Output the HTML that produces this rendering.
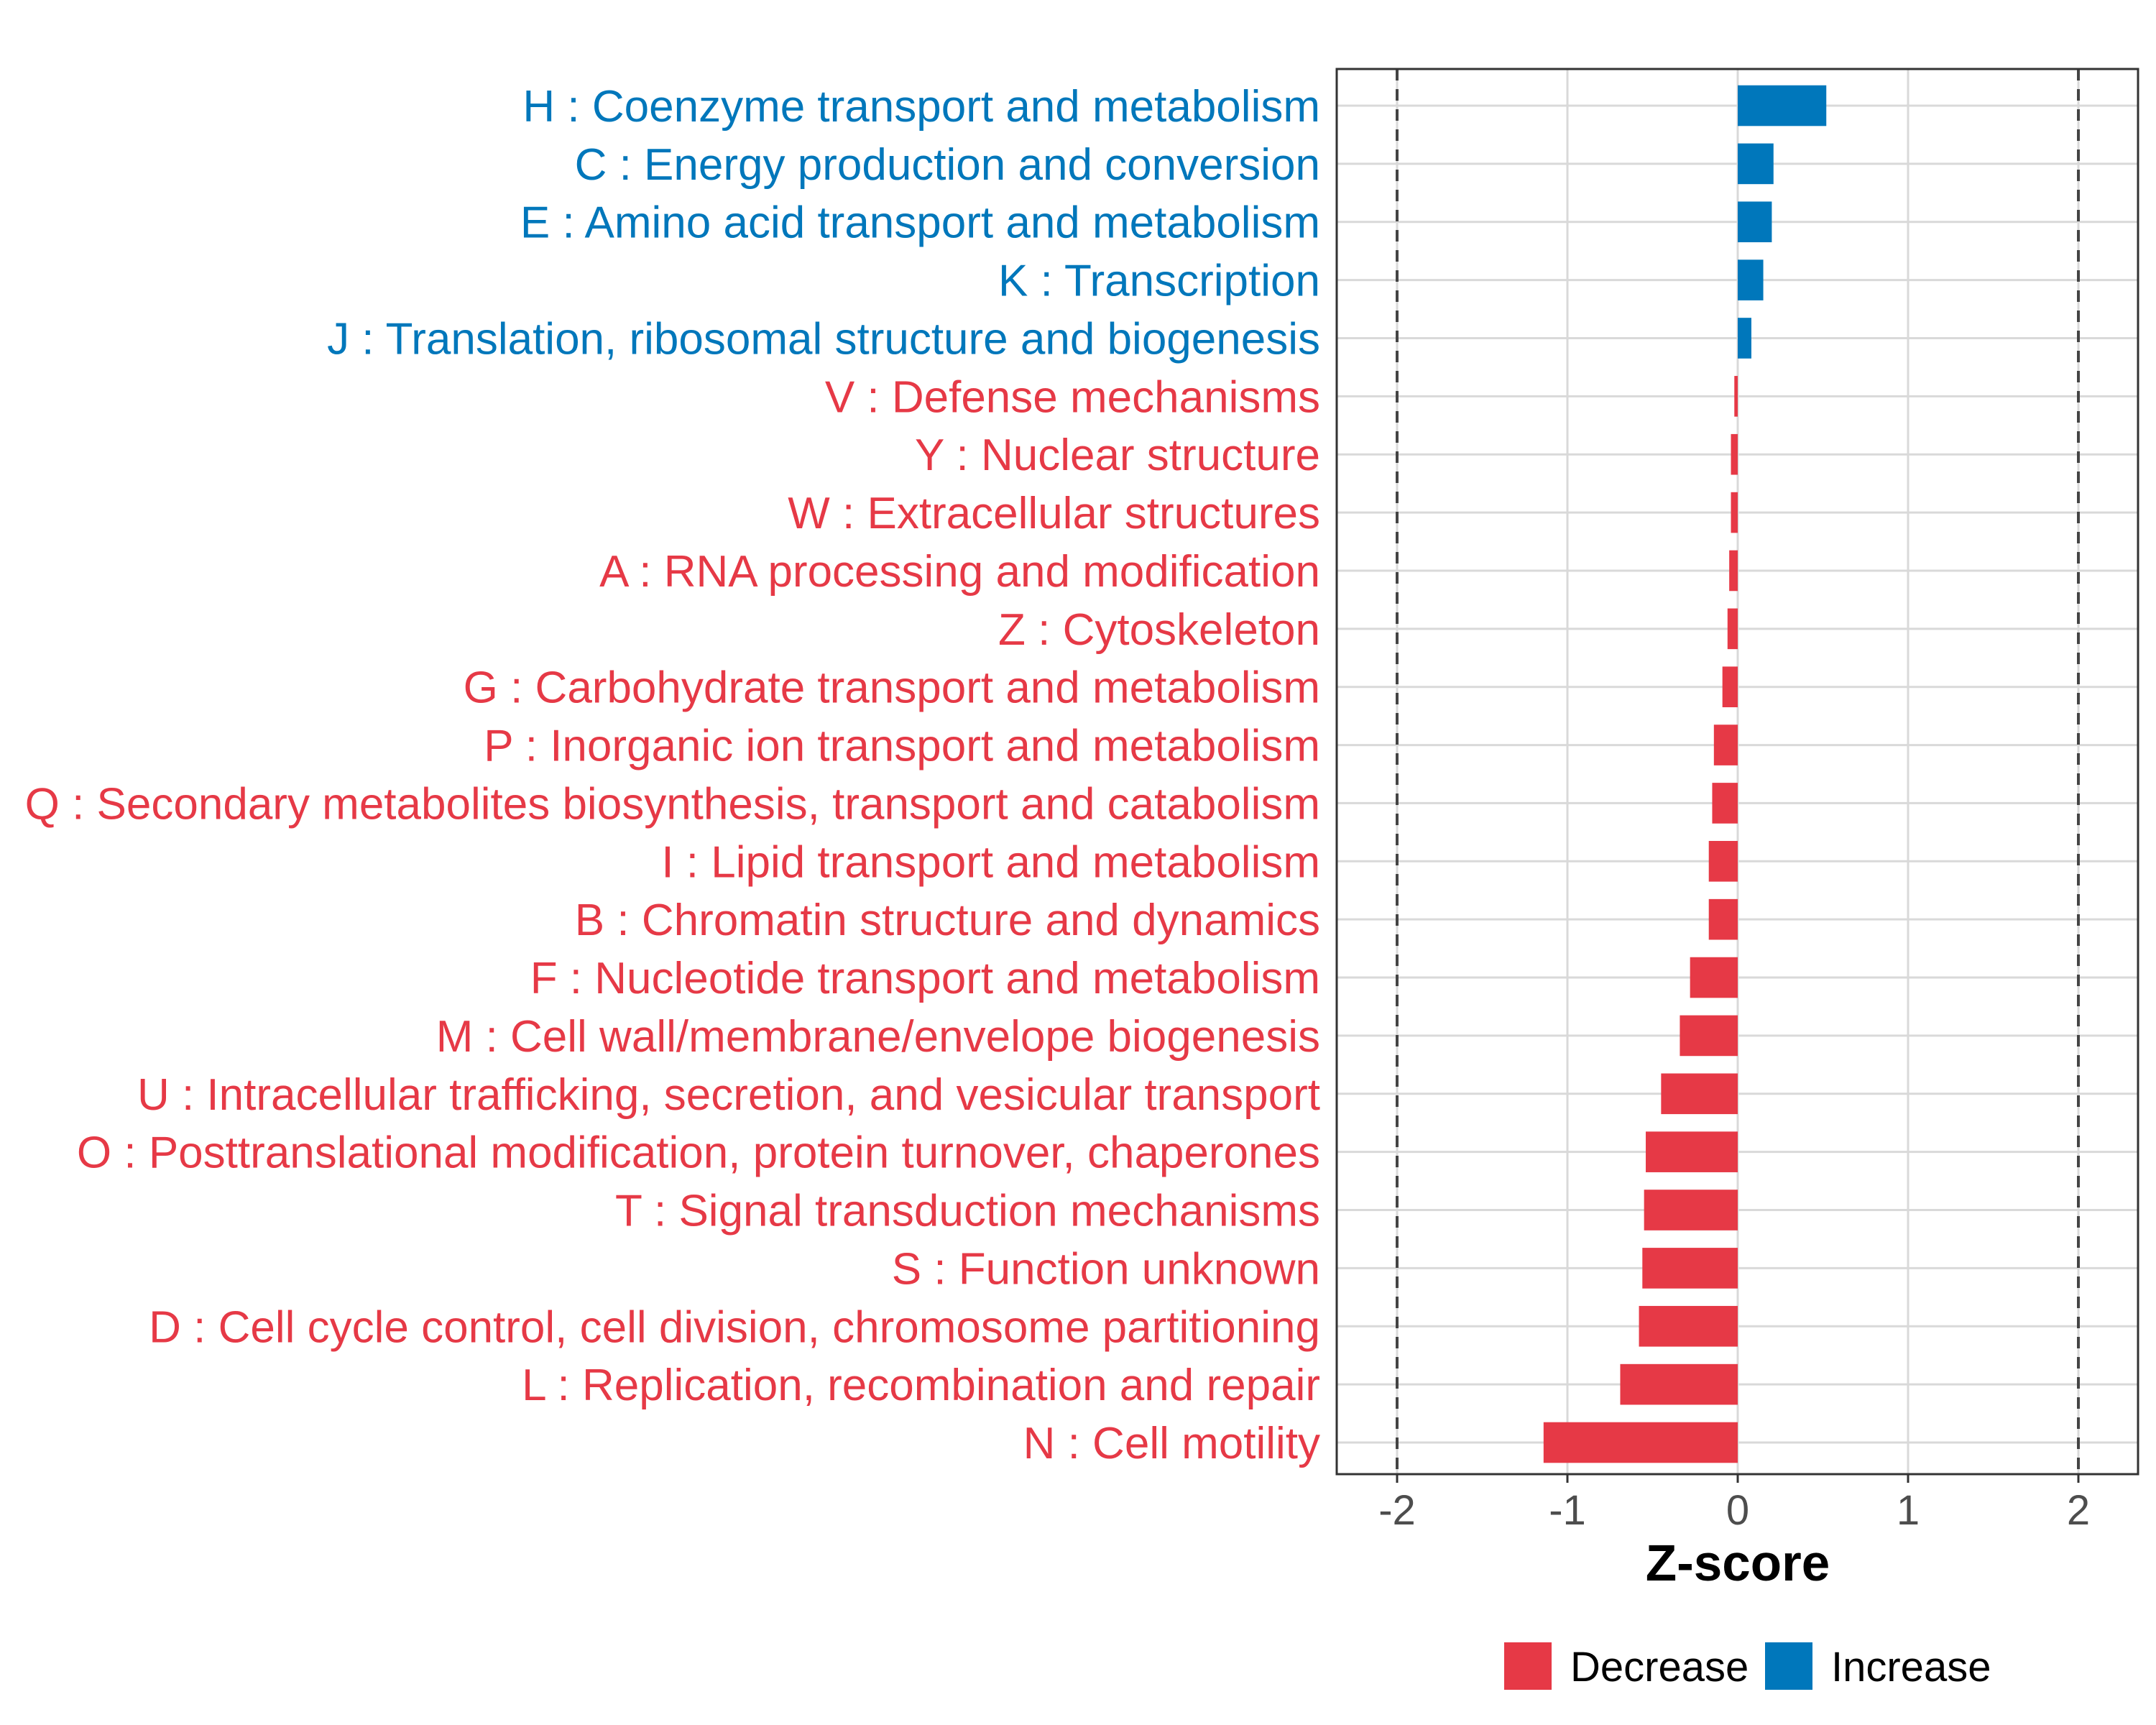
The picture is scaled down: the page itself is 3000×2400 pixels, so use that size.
<!DOCTYPE html>
<html><head><meta charset="utf-8"><style>
html,body{margin:0;padding:0;background:#fff}
svg{display:block;font-family:"Liberation Sans",Arial,sans-serif}
</style></head><body>
<svg id="chart" width="3000" height="2400" viewBox="0 0 3000 2400">
<rect width="3000" height="2400" fill="#fff"/>
<g id="grid"></g>
<g id="bars"></g>
<g id="labels"></g>
<g id="xaxis"></g>
<text x="2418" y="2199" text-anchor="middle" font-size="71" font-weight="bold" fill="#000">Z-score</text>
<g>
<rect x="2093" y="2285" width="66" height="66" fill="#E63946"/>
<text x="2185" y="2339" font-size="58" fill="#000">Decrease</text>
<rect x="2456" y="2285" width="66" height="66" fill="#0077BB"/>
<text x="2548" y="2339" font-size="58" fill="#000">Increase</text>
</g>
</svg>
<script>
const categories = ["H : Coenzyme transport and metabolism","C : Energy production and conversion","E : Amino acid transport and metabolism","K : Transcription","J : Translation, ribosomal structure and biogenesis","V : Defense mechanisms","Y : Nuclear structure","W : Extracellular structures","A : RNA processing and modification","Z : Cytoskeleton","G : Carbohydrate transport and metabolism","P : Inorganic ion transport and metabolism","Q : Secondary metabolites biosynthesis, transport and catabolism","I : Lipid transport and metabolism","B : Chromatin structure and dynamics","F : Nucleotide transport and metabolism","M : Cell wall/membrane/envelope biogenesis","U : Intracellular trafficking, secretion, and vesicular transport","O : Posttranslational modification, protein turnover, chaperones","T : Signal transduction mechanisms","S : Function unknown","D : Cell cycle control, cell division, chromosome partitioning","L : Replication, recombination and repair","N : Cell motility"];
const zscores = [0.52,0.21,0.20,0.15,0.08,-0.02,-0.04,-0.04,-0.05,-0.06,-0.09,-0.14,-0.15,-0.17,-0.17,-0.28,-0.34,-0.45,-0.54,-0.55,-0.56,-0.58,-0.69,-1.14];
const xTicks = [-2,-1,0,1,2];
const thresholds = [-2,2];

const NS="http://www.w3.org/2000/svg";
const L=1860,R=2975,T=96,B=2051;
const x0=2418,unit=237;
const xs=v=>x0+v*unit;
const y0=147,step=(2007-147)/(categories.length-1);
const ys=i=>y0+i*step;
function mk(tag,attrs,parent){const e=document.createElementNS(NS,tag);for(const k in attrs)e.setAttribute(k,attrs[k]);parent.appendChild(e);return e;}
const grid=document.getElementById('grid'),bars=document.getElementById('bars'),labels=document.getElementById('labels'),xaxis=document.getElementById('xaxis');
xTicks.forEach(v=>{const g=mk('line',{x1:xs(v),x2:xs(v),y1:T,y2:B,stroke:'#d9d9d9','stroke-width':3},grid);

});
categories.forEach((c,i)=>{const g=mk('line',{x1:L,x2:R,y1:ys(i),y2:ys(i),stroke:'#d9d9d9','stroke-width':3},grid);

});
thresholds.forEach(v=>{const g=mk('line',{x1:xs(v),x2:xs(v),y1:T,y2:B,stroke:'#444','stroke-width':4,'stroke-dasharray':'16 12'},grid);

});
const bh=step*0.7;
zscores.forEach((v,i)=>{const col=v>=0?'#0077BB':'#E63946';
const r=mk('rect',{x:Math.min(xs(0),xs(v)),y:ys(i)-bh/2,width:Math.abs(xs(v)-xs(0)),height:bh,fill:col},bars);


const t=mk('text',{x:1837,y:ys(i)+22,'text-anchor':'end','font-size':62,fill:col},labels);
t.textContent=categories[i];

});
const frame=mk('rect',{x:L,y:T,width:R-L,height:B-T,fill:'none',stroke:'#333','stroke-width':3},xaxis);


xTicks.forEach(v=>{const tk=mk('line',{x1:xs(v),x2:xs(v),y1:B,y2:B+12,stroke:'#333','stroke-width':3},xaxis);


const t=mk('text',{x:xs(v),y:2121,'text-anchor':'middle','font-size':58,fill:'#4d4d4d'},xaxis);
t.textContent=v;

});
</script>
</body></html>
